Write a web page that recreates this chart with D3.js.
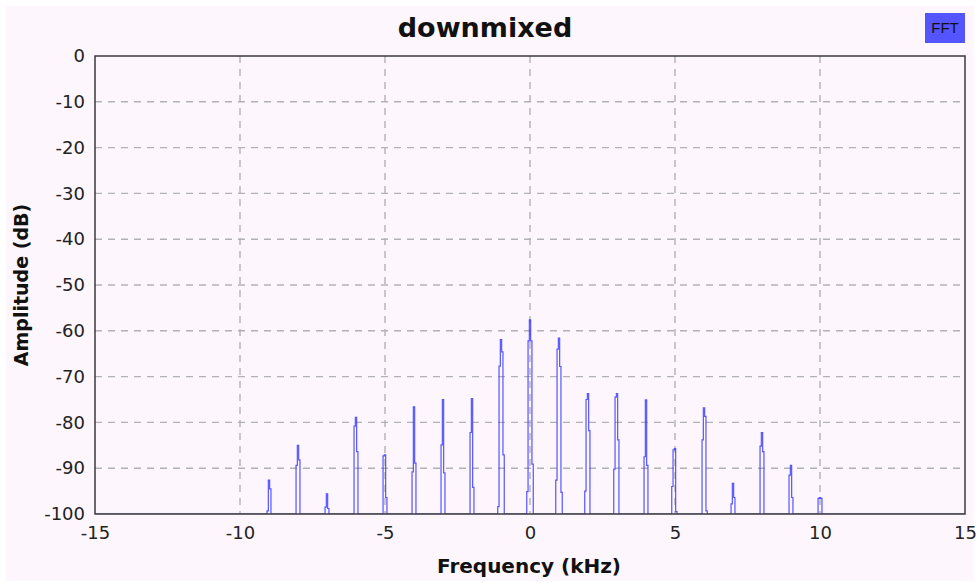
<!DOCTYPE html>
<html>
<head>
<meta charset="utf-8">
<script src="https://cdn.jsdelivr.net/npm/d3@7"></script>
<style>
  html, body { margin: 0; padding: 0; background: #ffffff; }
  svg { display: block; }
</style>
</head>
<body>
<svg id="chart" width="978" height="583"></svg>
<script>
// Harmonic centre frequencies (kHz)
const harmonicFreqs = [-9, -8, -7, -6, -5, -4, -3, -2, -1, 0, 1, 2, 3, 4, 5, 6, 7, 8, 9, 10];

// Bin levels (dB) around each harmonic: [f-2d, f-d, f, f+d, f+2d]
const binsOuterLeft  = [-100, -100, -100, -100, -100, -100, -100, -100, -98.4, -95.1, -92.6, -95.0, -90.2, -100, -94.0, -100, -100, -100, -100, -100];
const binsLeft       = [-99.3, -89.4, -98.5, -80.8, -87.3, -90.8, -84.9, -82.2, -67.7, -62.2, -64.0, -75.0, -74.5, -87.5, -86.0, -83.8, -97.8, -85.2, -91.5, -96.6];
const binsPeak       = [-92.6, -85.0, -95.6, -78.9, -87.1, -76.6, -75.0, -74.8, -61.9, -57.6, -61.6, -73.7, -73.7, -75.1, -85.7, -76.8, -93.3, -82.2, -89.4, -96.4];
const binsRight      = [-94.5, -88.2, -98.8, -86.4, -96.4, -88.9, -91.0, -94.2, -64.6, -62.2, -67.8, -81.8, -83.8, -89.4, -99.5, -78.7, -96.4, -86.4, -96.4, -96.6];
const binsOuterRight = [-100, -100, -100, -100, -100, -100, -100, -100, -87.1, -89.1, -95.3, -100, -100, -100, -100, -99.3, -100, -100, -100, -100];

// Bin spacing (kHz)
const binWidth = 0.045;

const xTicks = [-15, -10, -5, 0, 5, 10, 15];
const yTicks = [0, -10, -20, -30, -40, -50, -60, -70, -80, -90, -100];

const chartTitle = "downmixed";
const xLabel = "Frequency (kHz)";
const yLabel = "Amplitude (dB)";
const legendLabel = "FFT";

const W = 978, H = 583;
const plot = { left: 95, right: 965, top: 56, bottom: 514 };

const svg = d3.select("#chart");

// page background
svg.append("rect")
  .attr("x", 6).attr("y", 6)
  .attr("width", W - 10).attr("height", H - 8)
  .attr("fill", "#fdf6fd");

const x = d3.scaleLinear().domain([-15, 15]).range([plot.left, plot.right]);
const y = d3.scaleLinear().domain([-100, 0]).range([plot.bottom, plot.top]);

// grid
const grid = svg.append("g")
  .attr("stroke", "#b2b2b2")
  .attr("stroke-width", 1.4)
  .attr("stroke-dasharray", "7,6");

grid.selectAll("line.v")
  .data(xTicks.filter(t => t > -15 && t < 15))
  .join("line")
  .attr("class", "v")
  .attr("x1", d => x(d)).attr("x2", d => x(d))
  .attr("y1", plot.top).attr("y2", plot.bottom);

grid.selectAll("line.h")
  .data(yTicks.filter(t => t > -100 && t < 0))
  .join("line")
  .attr("class", "h")
  .attr("y1", d => y(d)).attr("y2", d => y(d))
  .attr("x1", plot.left).attr("x2", plot.right);

// spectrum points: baseline at -100 with a cluster of bins at each harmonic
const spectrum = [{ f: -15, db: -100 }];
harmonicFreqs.forEach((f, i) => {
  const levels = [binsOuterLeft[i], binsLeft[i], binsPeak[i], binsRight[i], binsOuterRight[i]];
  spectrum.push({ f: f - 3 * binWidth, db: -100 });
  levels.forEach((db, k) => spectrum.push({ f: f + (k - 2) * binWidth, db }));
  spectrum.push({ f: f + 3 * binWidth, db: -100 });
});
spectrum.push({ f: 15, db: -100 });

svg.append("clipPath").attr("id", "plotClip")
  .append("rect")
  .attr("x", plot.left).attr("y", plot.top)
  .attr("width", plot.right - plot.left).attr("height", plot.bottom - plot.top);

const line = d3.line().curve(d3.curveStep).x(d => x(d.f)).y(d => y(d.db));

svg.append("path")
  .datum(spectrum)
  .attr("clip-path", "url(#plotClip)")
  .attr("fill", "none")
  .attr("stroke", "#4444ff")
  .attr("stroke-width", 1.2)
  .attr("stroke-opacity", 0.9)
  .attr("d", line);

// frame
svg.append("rect")
  .attr("x", plot.left).attr("y", plot.top)
  .attr("width", plot.right - plot.left).attr("height", plot.bottom - plot.top)
  .attr("fill", "none")
  .attr("stroke", "#3a3a3a")
  .attr("stroke-width", 1.5);

// axes (labels only, no tick marks)
const fmt = d => String(d);
const xAxis = svg.append("g")
  .attr("transform", `translate(0,${plot.bottom})`)
  .call(d3.axisBottom(x).tickValues(xTicks).tickSize(0).tickPadding(20).tickFormat(fmt));
const yAxis = svg.append("g")
  .attr("transform", `translate(${plot.left},0)`)
  .call(d3.axisLeft(y).tickValues(yTicks).tickSize(0).tickPadding(10).tickFormat(fmt));

[xAxis, yAxis].forEach(a => {
  a.select(".domain").remove();
  a.selectAll("text")
    .attr("font-family", "DejaVu Sans, sans-serif")
    .attr("font-size", 18)
    .attr("fill", "#222");
});
xAxis.selectAll("text").attr("dy", "0.3em");

// title
svg.append("text")
  .attr("x", 485).attr("y", 37)
  .attr("text-anchor", "middle")
  .attr("font-family", "DejaVu Sans, sans-serif")
  .attr("font-weight", "bold")
  .attr("font-size", 27)
  .attr("fill", "#111")
  .text(chartTitle);

// axis titles
svg.append("text")
  .attr("x", 529).attr("y", 573)
  .attr("text-anchor", "middle")
  .attr("font-family", "DejaVu Sans, sans-serif")
  .attr("font-weight", "bold")
  .attr("font-size", 20)
  .attr("fill", "#111")
  .text(xLabel);

svg.append("text")
  .attr("transform", "translate(28,285) rotate(-90)")
  .attr("text-anchor", "middle")
  .attr("font-family", "DejaVu Sans, sans-serif")
  .attr("font-weight", "bold")
  .attr("font-size", 19)
  .attr("fill", "#111")
  .text(yLabel);

// legend
const legend = svg.append("g");
legend.append("rect")
  .attr("x", 925).attr("y", 13)
  .attr("width", 40).attr("height", 30)
  .attr("fill", "#5555ff");
legend.append("text")
  .attr("x", 945).attr("y", 33)
  .attr("text-anchor", "middle")
  .attr("font-family", "Liberation Sans, Arial, sans-serif")
  .attr("font-size", 15)
  .attr("fill", "#111")
  .text(legendLabel);
</script>
</body>
</html>
